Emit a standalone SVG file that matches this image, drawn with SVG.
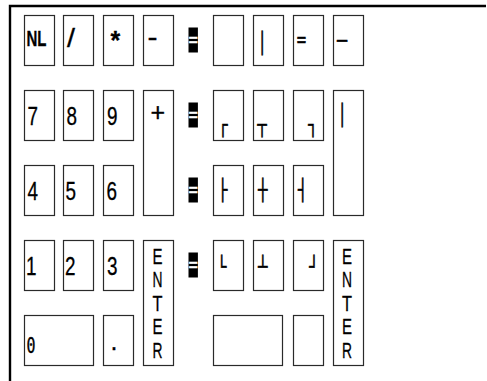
<svg xmlns="http://www.w3.org/2000/svg" width="487" height="381" viewBox="0 0 487 381">
<style>
.key{fill:#fff;stroke:#2a2a2a;stroke-width:1.2}
.t{font-family:"Liberation Sans",Arial,sans-serif;font-size:25px;fill:#000;stroke:#000;stroke-width:0.3}
.nl{font-family:"Liberation Sans",Arial,sans-serif;font-size:21.5px;font-weight:bold;fill:#000;stroke:#000;stroke-width:0.3}
.bx{font-family:"DejaVu Sans Mono",monospace;font-size:20.6px;fill:#000;stroke:#000;stroke-width:0.5}
.mk{fill:#000}
.mt{font-family:"DejaVu Sans Mono",monospace;font-size:20.6px;fill:#fff;stroke:#fff;stroke-width:0.3}
.en{font-family:"Liberation Sans",Arial,sans-serif;font-size:22px;fill:#000;stroke:#000;stroke-width:0.3;text-anchor:middle}
.zero{font-family:"DejaVu Sans Mono",monospace;font-size:21px;fill:#000;stroke:#000;stroke-width:0.4}
</style>
<rect width="487" height="381" fill="#fff"/>
<path d="M10 381V6H486" fill="none" stroke="#000" stroke-width="2.4"/>

<!-- left keypad -->
<g id="key-nl"><rect class="key" x="24.5" y="15.5" width="30" height="50"/><text class="nl" x="26.5" y="46" textLength="20" lengthAdjust="spacingAndGlyphs">NL</text></g>
<g id="key-slash"><rect class="key" x="63.5" y="15.5" width="30" height="50"/><text class="t" x="67" y="47" font-size="19" stroke-width="0" textLength="8" lengthAdjust="spacingAndGlyphs">/</text></g>
<g id="key-star"><rect class="key" x="103.5" y="15.5" width="30" height="50"/><text class="t" x="110.5" y="49" font-size="18" font-weight="bold" stroke-width="0">*</text></g>
<g id="key-minus"><rect class="key" x="143.5" y="15.5" width="30" height="50"/><text class="t" x="147.5" y="46" stroke-width="0" textLength="10" lengthAdjust="spacingAndGlyphs">-</text></g>

<g id="key-7"><rect class="key" x="24.5" y="90.5" width="30" height="50"/><text class="t" x="27.5" y="125" textLength="10.5" lengthAdjust="spacingAndGlyphs">7</text></g>
<g id="key-8"><rect class="key" x="63.5" y="90.5" width="30" height="50"/><text class="t" x="66.5" y="125" textLength="10.5" lengthAdjust="spacingAndGlyphs">8</text></g>
<g id="key-9"><rect class="key" x="103.5" y="90.5" width="30" height="50"/><text class="t" x="107" y="125" textLength="10.5" lengthAdjust="spacingAndGlyphs">9</text></g>
<g id="key-plus"><rect class="key" x="143.5" y="90.5" width="30" height="125"/><text class="t" x="150.5" y="120.5" font-size="12" stroke-width="0.5">+</text></g>

<g id="key-4"><rect class="key" x="24.5" y="165.5" width="30" height="50"/><text class="t" x="27.5" y="199.5" textLength="10.5" lengthAdjust="spacingAndGlyphs">4</text></g>
<g id="key-5"><rect class="key" x="63.5" y="165.5" width="30" height="50"/><text class="t" x="65.5" y="199.5" textLength="10.5" lengthAdjust="spacingAndGlyphs">5</text></g>
<g id="key-6"><rect class="key" x="103.5" y="165.5" width="30" height="50"/><text class="t" x="106.5" y="199.5" textLength="10.5" lengthAdjust="spacingAndGlyphs">6</text></g>

<g id="key-1"><rect class="key" x="24.5" y="240.5" width="30" height="50"/><text class="t" x="26" y="275" textLength="10.5" lengthAdjust="spacingAndGlyphs">1</text></g>
<g id="key-2"><rect class="key" x="63.5" y="240.5" width="30" height="50"/><text class="t" x="65" y="275" textLength="10.5" lengthAdjust="spacingAndGlyphs">2</text></g>
<g id="key-3"><rect class="key" x="103.5" y="240.5" width="30" height="50"/><text class="t" x="107" y="275" textLength="10.5" lengthAdjust="spacingAndGlyphs">3</text></g>
<g id="key-enter"><rect class="key" x="143.5" y="240.5" width="30" height="125"/>
<text class="en" x="157.5" y="263.5" textLength="10" lengthAdjust="spacingAndGlyphs">E</text>
<text class="en" x="157.5" y="287" textLength="10" lengthAdjust="spacingAndGlyphs">N</text>
<text class="en" x="157.5" y="310.5" textLength="10" lengthAdjust="spacingAndGlyphs">T</text>
<text class="en" x="157.5" y="334" textLength="10" lengthAdjust="spacingAndGlyphs">E</text>
<text class="en" x="157.5" y="357.5" textLength="10" lengthAdjust="spacingAndGlyphs">R</text></g>

<g id="key-0"><rect class="key" x="24.5" y="315.5" width="69" height="50"/><text class="zero" x="26.5" y="352.5" textLength="9" lengthAdjust="spacingAndGlyphs">0</text></g>
<g id="key-dot"><rect class="key" x="103.5" y="315.5" width="30" height="50"/><text class="t" x="110.5" y="350">.</text></g>

<!-- markers -->
<g id="marker-1"><rect class="mk" x="188.5" y="27.5" width="9.4" height="25"/><text class="mt" x="188.5" y="46.6" textLength="9.4" lengthAdjust="spacingAndGlyphs">=</text></g>
<g id="marker-2"><rect class="mk" x="188.5" y="102.5" width="9.4" height="25"/><text class="mt" x="188.5" y="121.6" textLength="9.4" lengthAdjust="spacingAndGlyphs">=</text></g>
<g id="marker-3"><rect class="mk" x="188.5" y="177.5" width="9.4" height="25"/><text class="mt" x="188.5" y="196.6" textLength="9.4" lengthAdjust="spacingAndGlyphs">=</text></g>
<g id="marker-4"><rect class="mk" x="188.5" y="252.5" width="9.4" height="25"/><text class="mt" x="188.5" y="271.6" textLength="9.4" lengthAdjust="spacingAndGlyphs">=</text></g>

<!-- right keypad -->
<g id="rkey-blank"><rect class="key" x="213.5" y="15.5" width="30" height="50"/></g>
<g id="rkey-vline"><rect class="key" x="253.5" y="15.5" width="30" height="50"/><text class="bx" x="257.6" y="49.6" textLength="9.4" lengthAdjust="spacingAndGlyphs">│</text></g>
<g id="rkey-eq"><rect class="key" x="293.5" y="15.5" width="30" height="50"/><text class="bx" x="296.8" y="47.1" textLength="9.4" lengthAdjust="spacingAndGlyphs">=</text></g>
<g id="rkey-hline"><rect class="key" x="333.5" y="15.5" width="30" height="50"/><text class="bx" x="337" y="48.1" textLength="10" lengthAdjust="spacingAndGlyphs">─</text></g>

<g id="rkey-tl"><rect class="key" x="213.5" y="90.5" width="30" height="50"/><text class="bx" x="218.3" y="132.1" textLength="9.4" lengthAdjust="spacingAndGlyphs">┌</text></g>
<g id="rkey-tm"><rect class="key" x="253.5" y="90.5" width="30" height="50"/><text class="bx" x="257.3" y="132.1" textLength="9.4" lengthAdjust="spacingAndGlyphs">┬</text></g>
<g id="rkey-tr"><rect class="key" x="293.5" y="90.5" width="30" height="50"/><text class="bx" x="308.3" y="132.1" textLength="9.4" lengthAdjust="spacingAndGlyphs">┐</text></g>
<g id="rkey-tall"><rect class="key" x="333.5" y="90.5" width="30" height="125"/><text class="bx" x="337.6" y="121.6" textLength="9.4" lengthAdjust="spacingAndGlyphs">│</text></g>

<g id="rkey-ml"><rect class="key" x="213.5" y="165.5" width="30" height="50"/><text class="bx" x="218" y="197.1" textLength="9.4" lengthAdjust="spacingAndGlyphs">├</text></g>
<g id="rkey-mm"><rect class="key" x="253.5" y="165.5" width="30" height="50"/><text class="bx" x="258" y="197.3" textLength="9.4" lengthAdjust="spacingAndGlyphs">┼</text></g>
<g id="rkey-mr"><rect class="key" x="293.5" y="165.5" width="30" height="50"/><text class="bx" x="298" y="197.1" textLength="9.4" lengthAdjust="spacingAndGlyphs">┤</text></g>

<g id="rkey-bl"><rect class="key" x="213.5" y="240.5" width="30" height="50"/><text class="bx" x="217" y="273.8" textLength="9.4" lengthAdjust="spacingAndGlyphs">└</text></g>
<g id="rkey-bm"><rect class="key" x="253.5" y="240.5" width="30" height="50"/><text class="bx" x="258" y="273.8" textLength="9.4" lengthAdjust="spacingAndGlyphs">┴</text></g>
<g id="rkey-br"><rect class="key" x="293.5" y="240.5" width="30" height="50"/><text class="bx" x="309.3" y="273.8" textLength="9.4" lengthAdjust="spacingAndGlyphs">┘</text></g>
<g id="rkey-enter"><rect class="key" x="333.5" y="240.5" width="30" height="125"/>
<text class="en" x="347" y="263.5" textLength="10" lengthAdjust="spacingAndGlyphs">E</text>
<text class="en" x="347" y="287" textLength="10" lengthAdjust="spacingAndGlyphs">N</text>
<text class="en" x="347" y="310.5" textLength="10" lengthAdjust="spacingAndGlyphs">T</text>
<text class="en" x="347" y="334" textLength="10" lengthAdjust="spacingAndGlyphs">E</text>
<text class="en" x="347" y="357.5" textLength="10" lengthAdjust="spacingAndGlyphs">R</text></g>

<g id="rkey-wide"><rect class="key" x="213.5" y="315.5" width="69" height="50"/></g>
<g id="rkey-narrow"><rect class="key" x="293.5" y="315.5" width="30" height="50"/></g>

<g id="connectors"/>
</svg>
